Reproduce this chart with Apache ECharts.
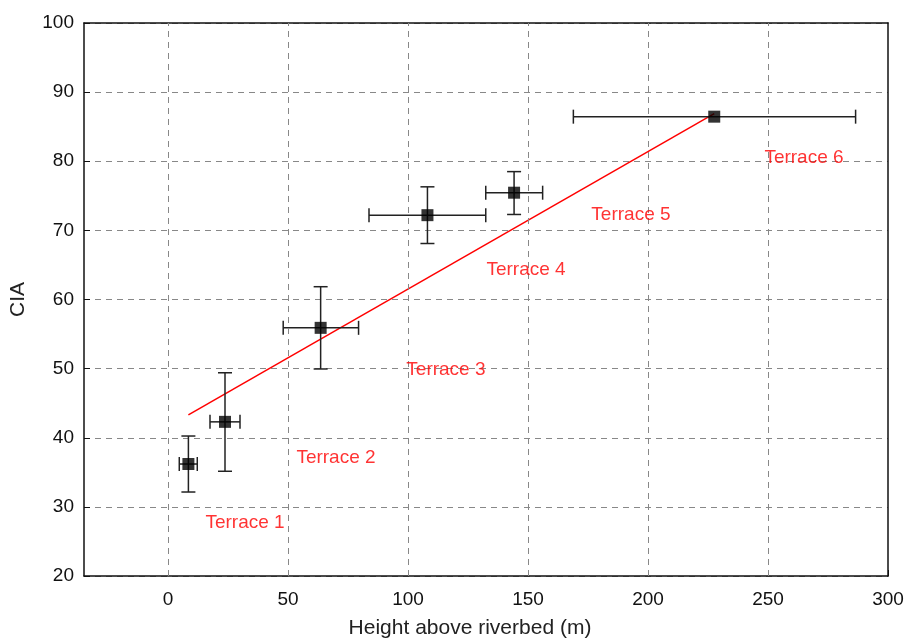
<!DOCTYPE html>
<html><head><meta charset="utf-8">
<script src="https://cdn.jsdelivr.net/npm/echarts@6/dist/echarts.min.js"></script>
<style>html,body{margin:0;padding:0;background:#fff}#c{width:904px;height:641px}</style>
</head><body><div id="c"></div>
<script>
const heights = [8.5, 23.75, 63.6, 108.1, 144.2, 227.6];
const cia = [36.2, 42.3, 55.9, 72.2, 75.45, 86.45];
const xLow = [4.7, 17.5, 48.0, 83.75, 132.4, 168.9];
const xHigh = [12.2, 30.0, 79.4, 132.4, 156.1, 286.5];
const yLow = [32.15, 35.15, 49.95, 68.1, 72.3, 86.45];
const yHigh = [40.25, 49.4, 61.85, 76.3, 78.5, 86.45];
const fitLine = [[8.5, 43.3], [227.6, 86.9]];
const xTicks = [0, 50, 100, 150, 200, 250, 300];
const terraceNames = ['Terrace 1','Terrace 2','Terrace 3','Terrace 4','Terrace 5','Terrace 6'];
const labelX = [32.1, 70.0, 115.8, 149.2, 192.9, 265.0];
const labelY = [27.7, 37.1, 49.8, 64.3, 72.2, 80.5];

const chart = echarts.init(document.getElementById('c'), null, {renderer:'canvas'});
const errData = heights.map((h,i)=>[h, cia[i], xLow[i], xHigh[i], yLow[i], yHigh[i]]);
const font = 'Arial, "Liberation Sans", sans-serif';
const gridLine = {type:[6,5],color:'#888',width:1};
chart.setOption({
  animation:false,
  backgroundColor:'#fff',
  grid:{left:84,right:16,top:23,bottom:65,containLabel:false,outerBoundsMode:'none'},
  xAxis:[{type:'value',min:-35,max:300,
    name:'Height above riverbed (m)',nameLocation:'middle',nameGap:42,
    nameTextStyle:{fontFamily:font,fontSize:21,color:'#222',padding:[0,32,0,0]},
    axisLine:{show:true,onZero:false,lineStyle:{color:'#111',width:1.5}},
    axisTick:{show:true,inside:true,length:6,lineStyle:{color:'#111'},customValues:xTicks},
    axisLabel:{fontFamily:font,fontSize:19,color:'#111',margin:14,customValues:xTicks},
    splitLine:{show:false}
  },{type:'value',position:'top',min:-35,max:300,
    axisLine:{show:true,onZero:false,lineStyle:{color:'#111',width:1.5}},
    axisTick:{show:false},axisLabel:{show:false},splitLine:{show:false}}],
  yAxis:[{type:'value',min:20,max:100,interval:10,
    name:'CIA',nameLocation:'middle',nameGap:55,nameRotate:90,
    nameTextStyle:{fontFamily:font,fontSize:21,color:'#222'},
    axisLine:{show:true,onZero:false,lineStyle:{color:'#111',width:1.5}},
    axisTick:{show:true,inside:true,length:6,lineStyle:{color:'#111'}},
    axisLabel:{fontFamily:font,fontSize:19,color:'#111',margin:10},
    splitLine:{show:true,lineStyle:gridLine}
  },{type:'value',position:'right',min:20,max:100,interval:10,
    axisLine:{show:true,onZero:false,lineStyle:{color:'#111',width:1.5}},
    axisTick:{show:false},axisLabel:{show:false},splitLine:{show:false}}],
  series:[
    {type:'line',data:fitLine,symbol:'none',lineStyle:{color:'#ff0000',width:1.5},z:3,
      markLine:{silent:true,symbol:'none',label:{show:false},lineStyle:gridLine,
        data:xTicks.filter(v=>v<300).map(v=>({xAxis:v}))}},
    {type:'custom',data:errData,z:4,
      renderItem:function(params,api){
        const c = api.coord([api.value(0),api.value(1)]);
        const xl = api.coord([api.value(2),api.value(1)]);
        const xh = api.coord([api.value(3),api.value(1)]);
        const yl = api.coord([api.value(0),api.value(4)]);
        const yh = api.coord([api.value(0),api.value(5)]);
        const cap = 7;
        const st = {stroke:'#222',lineWidth:1.5};
        const children = [];
        children.push({type:'line',shape:{x1:xl[0],y1:c[1],x2:xh[0],y2:c[1]},style:st});
        children.push({type:'line',shape:{x1:xl[0],y1:c[1]-cap,x2:xl[0],y2:c[1]+cap},style:st});
        children.push({type:'line',shape:{x1:xh[0],y1:c[1]-cap,x2:xh[0],y2:c[1]+cap},style:st});
        if (Math.abs(yh[1]-yl[1])>1){
          children.push({type:'line',shape:{x1:c[0],y1:yl[1],x2:c[0],y2:yh[1]},style:st});
          children.push({type:'line',shape:{x1:c[0]-cap,y1:yl[1],x2:c[0]+cap,y2:yl[1]},style:st});
          children.push({type:'line',shape:{x1:c[0]-cap,y1:yh[1],x2:c[0]+cap,y2:yh[1]},style:st});
        }
        return {type:'group',children:children};
      }},
    {type:'scatter',data:heights.map((h,i)=>[h,cia[i]]),symbol:'rect',symbolSize:12,
      itemStyle:{color:'#000'},z:5},
    {type:'scatter',data:labelX.map((x,i)=>[x,labelY[i]]),symbolSize:0,z:6,
      label:{show:true,position:'inside',fontFamily:font,fontSize:19,color:'#ff0000',
        formatter:p=>terraceNames[p.dataIndex]}}
  ]
});
</script></body></html>
